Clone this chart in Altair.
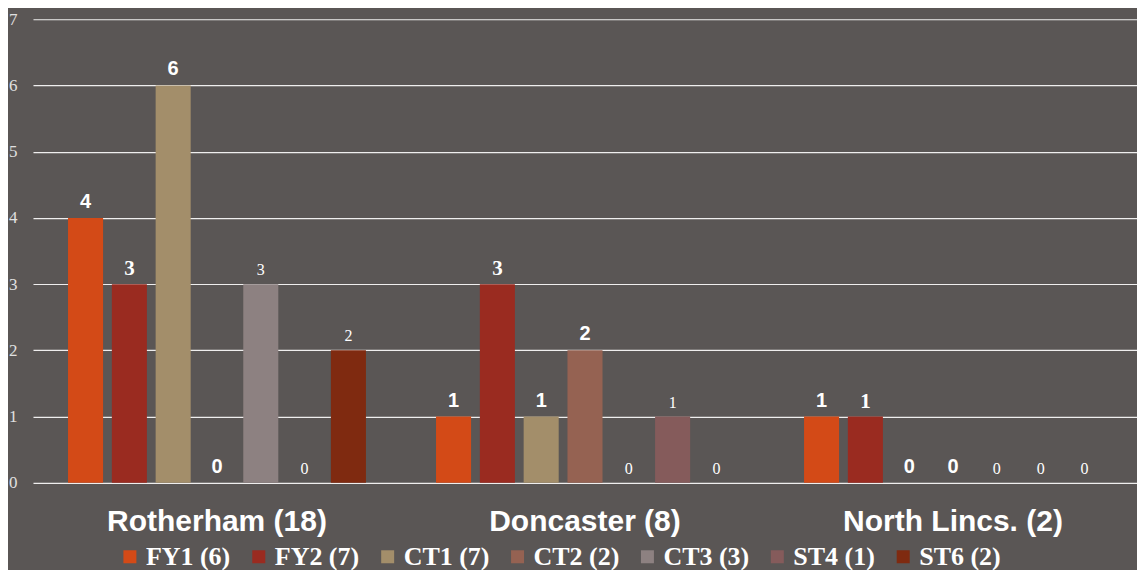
import altair as alt
import pandas as pd

groups = ["Rotherham (18)", "Doncaster (8)", "North Lincs. (2)"]
series = ["FY1 (6)", "FY2 (7)", "CT1 (7)", "CT2 (2)", "CT3 (3)", "ST4 (1)", "ST6 (2)"]
fy1 = [4, 1, 1]
fy2 = [3, 3, 1]
ct1 = [6, 1, 0]
ct2 = [0, 2, 0]
ct3 = [3, 0, 0]
st4 = [0, 1, 0]
st6 = [2, 0, 0]
colors = ["#d34a17", "#9a2b20", "#a38e6a", "#956252", "#8d8181", "#855b5b", "#7f2a10"]

# label style per series (styling only)
label_style = {
    "FY1 (6)": "sansbold", "FY2 (7)": "serifbold", "CT1 (7)": "sansbold",
    "CT2 (2)": "sansbold", "CT3 (3)": "serif", "ST4 (1)": "serif", "ST6 (2)": "serif",
}

vals = [fy1, fy2, ct1, ct2, ct3, st4, st6]
rows = []
for s, v in zip(series, vals):
    for g, x in zip(groups, v):
        rows.append({"group": g, "series": s, "value": x, "style": label_style[s]})
df = pd.DataFrame(rows)

base = alt.Chart(df).encode(
    x=alt.X("group:N", sort=groups, title=None,
            scale=alt.Scale(paddingInner=0, paddingOuter=0),
            axis=alt.Axis(labelAngle=0, labelFont="Liberation Sans", labelFontWeight="bold",
                          labelFontSize=30, labelColor="white", labelPadding=24,
                          labelLimit=600, domain=False, ticks=False)),
    xOffset=alt.XOffset("series:N", sort=series,
                        scale=alt.Scale(paddingInner=0.2, paddingOuter=0.8)),
    y=alt.Y("value:Q", title=None,
            scale=alt.Scale(domain=[0, 7], nice=False),
            axis=alt.Axis(values=list(range(8)), domain=False, ticks=False,
                          grid=True, gridColor="#ffffff", gridOpacity=0.9, gridWidth=1.2)),
)

bars = base.mark_bar().encode(
    color=alt.Color("series:N", sort=series,
                    scale=alt.Scale(domain=series, range=colors),
                    legend=alt.Legend(title=None, orient="none", legendX=84, legendY=525,
                                      direction="horizontal", columns=7,
                                      symbolType="square", symbolSize=169,
                                      symbolStrokeWidth=0, symbolOffset=0,
                                      labelFont="Liberation Serif", labelFontWeight="bold",
                                      labelFontSize=26, labelColor="white",
                                      labelOffset=3, columnPadding=15, labelLimit=250))
)

def txt(style, font, weight, size, dy):
    return base.transform_filter(alt.datum.style == style).mark_text(
        font=font, fontWeight=weight, fontSize=size, color="white",
        baseline="bottom", dy=dy
    ).encode(text="value:Q")

t1 = txt("sansbold", "Liberation Sans", "bold", 20, -6)
t2 = txt("serifbold", "Liberation Serif", "bold", 21, -5)
t3 = txt("serif", "Liberation Serif", "normal", 16, -6)

chart = alt.layer(bars, t1, t2, t3).properties(
    width=1105, height=464,
    padding={"left": 0, "top": 2, "right": 0, "bottom": 0},
    background="#5a5655",
).configure_view(stroke=None).configure_axisY(
    labelFont="Liberation Serif", labelFontSize=17, labelColor="#e0e0e0", labelPadding=16
)

chart.save("out.html", embed_options={"renderer": "svg", "actions": False})
